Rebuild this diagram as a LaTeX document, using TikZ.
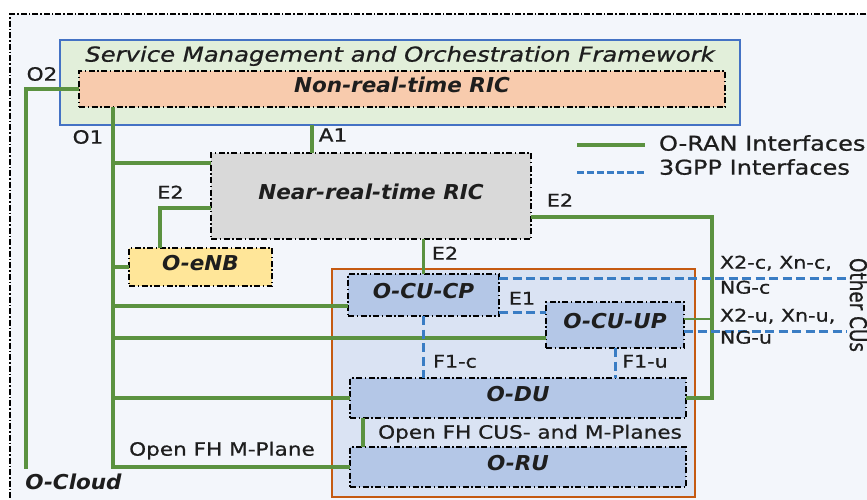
\documentclass[tikz,border=0pt]{standalone}
\usepackage{fontspec}
\setmainfont{DejaVu Sans}[FakeStretch=1.18, FakeBold=0.8]
\newfontfamily\bxfont{DejaVu Sans}[FakeStretch=1.05]
\newfontfamily\plainfont{DejaVu Sans}[FakeBold=0.8]
\definecolor{bgc}{HTML}{F3F6FB}
\definecolor{smofill}{HTML}{E2EFDA}
\definecolor{smoline}{HTML}{4472C4}
\definecolor{nrtfill}{HTML}{F8CBAD}
\definecolor{nearfill}{HTML}{D9D9D9}
\definecolor{enbfill}{HTML}{FFE699}
\definecolor{cufill}{HTML}{DAE3F3}
\definecolor{culine}{HTML}{C55A11}
\definecolor{unitfill}{HTML}{B4C7E7}
\definecolor{grn}{HTML}{5B9240}
\definecolor{blu}{HTML}{3A7DC4}
\definecolor{txt}{HTML}{1E1E1E}
\begin{document}
\begin{tikzpicture}[x=1pt,y=-1pt,
  lbl/.style={inner sep=0pt, outer sep=0pt, text height=0.73em, text depth=0pt, text=txt},
  unit/.style={draw=black, line width=1.4pt, dash pattern=on 6pt off 2.5pt on 1.5pt off 2.5pt,
    inner sep=0pt, outer sep=0pt, text height=0.73em, text depth=0pt, text=txt,
    font=\bxfont\bfseries\itshape\fontsize{20.5}{24}\selectfont},
  oran/.style={draw=grn, line width=3.5pt},
  gpp/.style={draw=blu, line width=3pt, dash pattern=on 9pt off 4.5pt},
  sm/.style={lbl, font=\fontsize{17.5}{20}\selectfont},
  md/.style={lbl, font=\fontsize{18.3}{21}\selectfont},
  lg/.style={lbl, font=\fontsize{20.4}{24}\selectfont},
]
\useasboundingbox (0,0) rectangle (867,499);
\clip (0,0) rectangle (867,499);
\fill[white] (0,0) rectangle (867,499);

% O-Cloud frame
\node[draw=black, fill=bgc, line width=1.4pt, dash pattern=on 6pt off 2pt on 1.5pt off 2pt,
  minimum width=870pt, minimum height=496pt, anchor=north west, inner sep=0pt, outer sep=0pt] (cloud) at (10,14) {};

% SMO
\node[draw=smoline, fill=smofill, line width=2pt, minimum width=680pt, minimum height=85pt,
  inner sep=0pt, outer sep=0pt] (smo) at (400,82.5) {};
\node[lbl, font=\itshape\fontsize{20.6}{24}\selectfont] (smot) at (400,58)
  {Service Management and Orchestration Framework};
\node[unit, fill=nrtfill, minimum width=646pt, minimum height=36pt] (nrt) at (402,89) {Non-real-time RIC};

% CU frame
\node[draw=culine, fill=cufill, line width=2pt, minimum width=363pt, minimum height=228pt,
  inner sep=0pt, outer sep=0pt] (cu) at (513.5,383) {};

% units
\node[unit, fill=nearfill, minimum width=320pt, minimum height=86pt] (near) at (371,196) {Near-real-time RIC};
\node[unit, fill=enbfill, minimum width=143pt, minimum height=38pt] (enb) at (200.5,267) {O-eNB};
\node[unit, fill=unitfill, minimum width=151pt, minimum height=42pt] (cp) at (423.5,295) {O-CU-CP};
\node[unit, fill=unitfill, minimum width=138pt, minimum height=46pt] (up) at (615,325) {O-CU-UP};
\node[unit, fill=unitfill, minimum width=336pt, minimum height=40pt] (du) at (518,398) {O-DU};
\node[unit, fill=unitfill, minimum width=336pt, minimum height=40pt] (ru) at (518,467) {O-RU};

% O2 / O1
\coordinate (o2end) at (26,469);
\draw[oran] (nrt.west) -| (o2end);
\coordinate (o1) at (113,107);
\draw[oran] (o1) |- (ru.west);
\coordinate (nb) at ([yshift=-10pt]near.north west);
\draw[oran] (nb) -- (nb -| o1);
\draw[oran] (enb.west) -- (enb.west -| o1);
\coordinate (cpb) at ([yshift=-11pt]cp.west);
\draw[oran] (cpb) -- (cpb -| o1);
\coordinate (upb) at ([yshift=-13pt]up.west);
\draw[oran] (upb) -- (upb -| o1);
\draw[oran] (du.west) -- (du.west -| o1);

% A1
\coordinate (a1b) at ([xshift=-59pt]near.north);
\draw[oran] (a1b) -- (a1b |- smo.south);

% E2
\coordinate (e2a) at ([yshift=-12pt]near.west);
\coordinate (e2b) at ([xshift=-40.5pt]enb.north);
\draw[oran] (e2a) -| (e2b);
\draw[oran] (cp.north) -- (cp.north |- near.south);
\coordinate (e2r) at ([yshift=-21pt]near.east);
\coordinate (e2v) at (712,217);
\draw[oran, line width=4pt] (e2r) -- (e2v) |- (du.east);
\coordinate (upe) at ([yshift=6pt]up.east);
\draw[oran, line width=2.5pt] (upe) -- (upe -| e2v);

% Open FH
\coordinate (fh) at ([xshift=13pt]du.south west);
\draw[oran] (fh) -- (fh |- ru.north);

% 3GPP
\draw[gpp] (cp.south) -- (cp.south |- du.north);
\draw[gpp] (up.south) -- (up.south |- du.north);
\coordinate (e1a) at ([yshift=-17pt]cp.east);
\draw[gpp] (e1a) -- (e1a -| up.west);
\coordinate (x2c) at ([yshift=17pt]cp.east);
\coordinate (x2cend) at (847,278);
\draw[gpp] (x2c) -- (x2c -| x2cend);
\coordinate (x2u) at ([yshift=-6pt]up.east);
\coordinate (x2uend) at (847,331);
\draw[gpp] (x2u) -- (x2u -| x2uend);

% legend
\coordinate (lg1a) at (577,145); \coordinate (lg1b) at (645,145);
\draw[oran] (lg1a) -- (lg1b);
\coordinate (lg2a) at (577,172); \coordinate (lg2b) at (645,172);
\draw[gpp, dash pattern=on 7pt off 3pt] (lg2a) -- (lg2b);
\node[lg, anchor=west] (lgt1) at (659,147) {O-RAN Interfaces};
\node[lg, anchor=west] (lgt2) at (659,171) {3GPP Interfaces};

% labels
\node[md] (lo2) at (42,77) {O2};
\node[md] (lo1) at (88,140) {O1};
\node[md] (la1) at (333,138) {A1};
\node[sm] (le2a) at (170.5,195) {E2};
\node[sm] (le2b) at (445,256) {E2};
\node[sm] (le2c) at (560,203) {E2};
\node[sm] (le1) at (522,301) {E1};
\node[sm] (lf1c) at (455,364) {F1-c};
\node[sm] (lf1u) at (645,364) {F1-u};
\node[md] (lfh) at (530,435) {Open FH CUS- and M-Planes};
\node[md] (lfhm) at (222,452) {Open FH M-Plane};
\node[lbl, font=\bxfont\bfseries\itshape\fontsize{20.5}{24}\selectfont] (lcloud) at (73.5,486) {O-Cloud};
\node[sm, anchor=west] (lx2c) at (720,265) {X2-c, Xn-c,};
\node[sm, anchor=west] (lngc) at (720,290) {NG-c};
\node[sm, anchor=west] (lx2u) at (720,318) {X2-u, Xn-u,};
\node[sm, anchor=west] (lngu) at (720,340) {NG-u};
\node[inner sep=0pt, outer sep=0pt, text=txt, rotate=-90, anchor=base] (lother) at (850,305)
  {\scalebox{1}[1.25]{\plainfont\fontsize{18.4}{20}\selectfont Other CUs}};
\end{tikzpicture}
\end{document}
